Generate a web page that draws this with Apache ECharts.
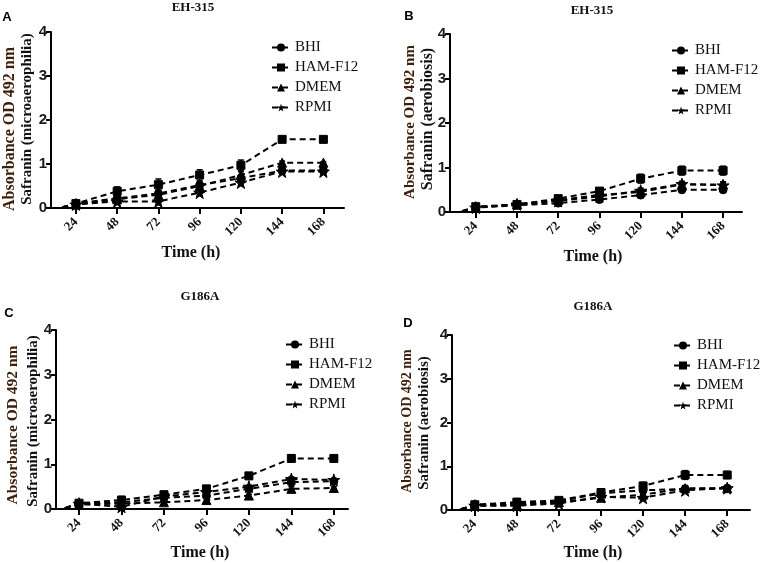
<!DOCTYPE html>
<html><head><meta charset="utf-8">
<script src="https://cdn.jsdelivr.net/npm/echarts@6/dist/echarts.min.js"></script>
<style>html,body{margin:0;padding:0;background:#fff}#c{width:763px;height:563px}</style>
</head><body><div id="c"></div>
<script>
// ---- data ----
const times = [24, 48, 72, 96, 120, 144, 168];
const seriesNames = ['BHI', 'HAM-F12', 'DMEM', 'RPMI'];
const startTime = 16;   // short lead-in segment before the first sampled time
const startValue = 0.02;

// Panel A: EH-315, microaerophilia
const A_BHI  = [0.10, 0.22, 0.33, 0.52, 0.68, 0.85, 0.85];
const A_HAM  = [0.10, 0.38, 0.53, 0.75, 0.97, 1.56, 1.56];
const A_DMEM = [0.08, 0.20, 0.30, 0.50, 0.75, 1.03, 1.03];
const A_RPMI = [0.08, 0.15, 0.15, 0.35, 0.58, 0.83, 0.83];
const A_ERR  = [0.04, 0.10, 0.13, 0.12, 0.12, 0.06, 0.04];
// Panel B: EH-315, aerobiosis
const B_BHI  = [0.10, 0.15, 0.20, 0.28, 0.38, 0.50, 0.50];
const B_HAM  = [0.12, 0.17, 0.30, 0.47, 0.75, 0.93, 0.93];
const B_DMEM = [0.10, 0.17, 0.27, 0.38, 0.45, 0.62, 0.62];
const B_RPMI = [0.10, 0.17, 0.25, 0.35, 0.48, 0.63, 0.60];
const B_ERR  = [0.04, 0.05, 0.06, 0.06, 0.10, 0.10, 0.10];
// Panel C: G186A, microaerophilia
const C_BHI  = [0.12, 0.15, 0.25, 0.30, 0.45, 0.60, 0.62];
const C_HAM  = [0.13, 0.20, 0.32, 0.45, 0.74, 1.13, 1.13];
const C_DMEM = [0.10, 0.12, 0.15, 0.20, 0.30, 0.45, 0.47];
const C_RPMI = [0.12, 0.05, 0.28, 0.38, 0.50, 0.67, 0.65];
const C_ERR  = [0.04, 0.08, 0.05, 0.05, 0.05, 0.08, 0.05];
// Panel D: G186A, aerobiosis
const D_BHI  = [0.12, 0.15, 0.20, 0.38, 0.45, 0.48, 0.50];
const D_HAM  = [0.12, 0.18, 0.22, 0.40, 0.55, 0.80, 0.80];
const D_DMEM = [0.10, 0.12, 0.18, 0.28, 0.35, 0.50, 0.50];
const D_RPMI = [0.10, 0.10, 0.15, 0.30, 0.28, 0.45, 0.50];
const D_ERR  = [0.04, 0.08, 0.06, 0.06, 0.08, 0.10, 0.08];

const yTicks = [0, 1, 2, 3, 4];
const panelLetters = ['A', 'B', 'C', 'D'];
const panelTitles = ['EH-315', 'EH-315', 'G186A', 'G186A'];
const yTitle1 = 'Absorbance OD 492 nm';
const yTitle2 = ['Safranin (microaerophilia)', 'Safranin (aerobiosis)', 'Safranin (microaerophilia)', 'Safranin (aerobiosis)'];
const xTitle = 'Time (h)';

// ---- layout ----
const panels = [
  {vals:[A_BHI,A_HAM,A_DMEM,A_RPMI], err:A_ERR, grid:{left:51,top:32,width:293,height:176}, xmin:9.5, xmax:180,
   letter:[7,17], title:[193,8], xt:[191,253], yt1:[10,129,16], yt2:[27,119,15], legend:[266,35]},
  {vals:[B_BHI,B_HAM,B_DMEM,B_RPMI], err:B_ERR, grid:{left:450,top:34,width:292,height:178}, xmin:9, xmax:179,
   letter:[409,16], title:[592,11], xt:[593,257], yt1:[410,122,15], yt2:[428,119,16], legend:[666,38]},
  {vals:[C_BHI,C_HAM,C_DMEM,C_RPMI], err:C_ERR, grid:{left:56,top:330,width:292,height:179}, xmin:11, xmax:176,
   letter:[9,313], title:[200,297], xt:[200,553], yt1:[13,425,15.5], yt2:[33,421,15], legend:[280,332]},
  {vals:[D_BHI,D_HAM,D_DMEM,D_RPMI], err:D_ERR, grid:{left:452,top:335,width:298,height:175}, xmin:11, xmax:181,
   letter:[408,323], title:[593,307], xt:[593,553], yt1:[407,421,14], yt2:[424,423,15], legend:[668,333]}
];

const starPath = 'path://M50,0 L61,35 L98,35 L68,57 L79,91 L50,70 L21,91 L32,57 L2,35 L39,35 Z';
const symbols = ['circle', 'rect', 'triangle', starPath];
const symSizes = [8, 8, 9, 12];

const option = {
  animation: false,
  backgroundColor: '#fff',
  grid: [], xAxis: [], yAxis: [], series: [], legend: [], graphic: []
};

panels.forEach((p, i) => {
  option.grid.push(p.grid);
  option.xAxis.push({
    type: 'value', gridIndex: i, min: p.xmin, max: p.xmax,
    axisLine: {show: true, lineStyle: {color: '#000', width: 2}},
    axisTick: {show: true, length: 6, inside: false, lineStyle: {color: '#000', width: 2}, customValues: times},
    axisLabel: {customValues: times, rotate: 45, margin: 12, color: '#111',
      fontFamily: 'Liberation Serif', fontWeight: 'bold', fontSize: 13},
    splitLine: {show: false}
  });
  option.yAxis.push({
    type: 'value', gridIndex: i, min: 0, max: 4, interval: 1,
    axisLine: {show: true, lineStyle: {color: '#000', width: 2}},
    axisTick: {show: true, length: 5, lineStyle: {color: '#000', width: 2}},
    axisLabel: {color: '#1a1a1a', fontFamily: 'Liberation Sans', fontWeight: 'bold', fontSize: 15, margin: 4},
    splitLine: {show: false}
  });
  seriesNames.forEach((name, k) => {
    const data = [{value: [startTime, startValue], symbol: 'none'}]
      .concat(times.map((t, j) => [t, p.vals[k][j]]));
    option.series.push({
      type: 'line', name: name, xAxisIndex: i, yAxisIndex: i, data: data,
      symbol: symbols[k], symbolSize: symSizes[k],
      lineStyle: {color: '#000', width: 2, type: [6, 4]},
      itemStyle: {color: '#000', borderColor: '#000'},
      z: 3
    });
  });
  // error bars
  const errData = [];
  seriesNames.forEach((name, k) => {
    times.forEach((t, j) => {
      const v = p.vals[k][j];
      const e = p.err[j] * (k === 1 ? 1 : 0.6);
      errData.push([t, Math.max(0, v - e), v + e]);
    });
  });
  option.series.push({
    type: 'custom', xAxisIndex: i, yAxisIndex: i, data: errData, z: 2, silent: true,
    renderItem: function (params, api) {
      const x = api.value(0);
      const lo = api.coord([x, api.value(1)]);
      const hi = api.coord([x, api.value(2)]);
      const w = 3;
      return {type: 'group', children: [
        {type: 'line', shape: {x1: lo[0], y1: lo[1], x2: hi[0], y2: hi[1]}, style: {stroke: '#000', lineWidth: 1.5}},
        {type: 'line', shape: {x1: hi[0] - w, y1: hi[1], x2: hi[0] + w, y2: hi[1]}, style: {stroke: '#000', lineWidth: 1.5}},
        {type: 'line', shape: {x1: lo[0] - w, y1: lo[1], x2: lo[0] + w, y2: lo[1]}, style: {stroke: '#000', lineWidth: 1.5}}
      ]};
    }
  });
  option.legend.push({
    orient: 'vertical', left: p.legend[0], top: p.legend[1],
    data: seriesNames, itemWidth: 18, itemHeight: 10, itemGap: 5,
    textStyle: {fontFamily: 'Liberation Serif', fontSize: 15, color: '#111', lineHeight: 15}
  });
  option.graphic.push(
    {type: 'text', x: p.letter[0], y: p.letter[1], style: {text: panelLetters[i], align: 'center', verticalAlign: 'middle',
      font: 'bold 13px "Liberation Sans"', fill: '#000'}},
    {type: 'text', x: p.title[0], y: p.title[1], style: {text: panelTitles[i], align: 'center', verticalAlign: 'middle',
      font: 'bold 13px "Liberation Serif"', fill: '#111'}},
    {type: 'text', x: p.xt[0], y: p.xt[1], style: {text: xTitle, align: 'center', verticalAlign: 'middle',
      font: 'bold 16px "Liberation Serif"', fill: '#111'}},
    {type: 'text', x: p.yt1[0], y: p.yt1[1], rotation: Math.PI / 2, style: {text: yTitle1, align: 'center', verticalAlign: 'middle',
      font: 'bold ' + p.yt1[2] + 'px "Liberation Serif"', fill: '#3d200c'}},
    {type: 'text', x: p.yt2[0], y: p.yt2[1], rotation: Math.PI / 2, style: {text: yTitle2[i], align: 'center', verticalAlign: 'middle',
      font: 'bold ' + p.yt2[2] + 'px "Liberation Serif"', fill: '#111'}}
  );
});

const chart = echarts.init(document.getElementById('c'), null, {renderer: 'canvas'});
chart.setOption(option);
</script>
</body></html>
